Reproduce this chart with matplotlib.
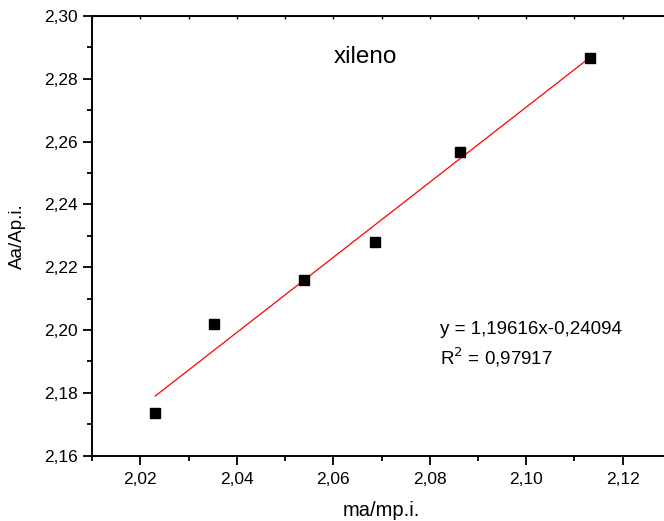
import numpy as np
import matplotlib.pyplot as plt
from matplotlib.ticker import MultipleLocator, FuncFormatter

plt.rcParams['font.family'] = ['Liberation Sans', 'DejaVu Sans']

# data points (ma/mp.i. vs Aa/Ap.i.)
x_data = [2.0231, 2.0352, 2.0539, 2.0687, 2.0863, 2.1133]
y_data = [2.1735, 2.2018, 2.2158, 2.2279, 2.2568, 2.2867]

# linear fit as reported
slope = 1.19616
intercept = -0.24094
r2 = 0.97917

fig = plt.figure(figsize=(6.64, 5.21), dpi=100)
ax = fig.add_axes([0.1386, 0.1253, 0.8719, 0.844])

ax.plot(x_data, y_data, 's', color='black', markersize=6.8, zorder=3)
xf = np.array([x_data[0], x_data[-1]])
ax.plot(xf, slope * xf + intercept, color='red', lw=0.9, zorder=2)

ax.set_xlim(2.01, 2.13)
ax.set_ylim(2.16, 2.30)

comma = FuncFormatter(lambda v, p: ("%.2f" % v).replace('.', ','))
ax.xaxis.set_major_locator(MultipleLocator(0.02))
ax.xaxis.set_minor_locator(MultipleLocator(0.01))
ax.yaxis.set_major_locator(MultipleLocator(0.02))
ax.yaxis.set_minor_locator(MultipleLocator(0.01))
ax.xaxis.set_major_formatter(comma)
ax.yaxis.set_major_formatter(comma)

ax.tick_params(which='major', length=6.5, width=1.3, labelsize=12.5)
ax.tick_params(axis='y', pad=4)
ax.tick_params(axis='x', pad=5)
ax.tick_params(which='minor', length=3.5, width=1.3)
for s in ['left', 'bottom', 'top']:
    ax.spines[s].set_linewidth(1.4)
ax.spines['right'].set_visible(False)

top = ax.secondary_xaxis('top')
top.xaxis.set_major_locator(MultipleLocator(0.01))
top.tick_params(direction='in', length=2, width=1.0, labeltop=False)

ax.set_xlabel('ma/mp.i.', fontsize=14.5, va='center')
ax.set_ylabel('Aa/Ap.i.', fontsize=13.5, va='center')
ax.xaxis.set_label_coords(0.5, -0.125)
ax.yaxis.set_label_coords(-0.128, 0.5)

ax.text(0.473, 0.907, 'xileno', transform=ax.transAxes, fontsize=17.5, ha='center', va='center')
eq = 'y = ' + ('%.5f' % slope).replace('.', ',') + 'x-' + ('%.5f' % -intercept).replace('.', ',')
ax.text(0.601, 0.286, eq, transform=ax.transAxes, fontsize=13.5, ha='left', va='center')
ax.text(0.601, 0.225, r'R$^2$ = ' + ('%.5f' % r2).replace('.', ','), transform=ax.transAxes,
        fontsize=13.5, ha='left', va='center')

fig.savefig('out.png', dpi=100)
